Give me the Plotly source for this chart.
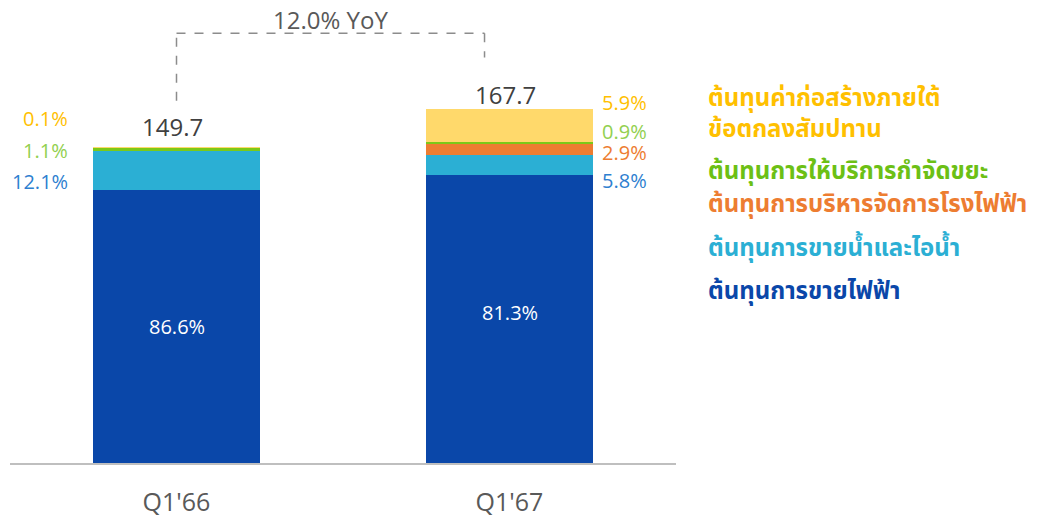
import plotly.graph_objects as go

categories = ["Q1'66", "Q1'67"]
totals = [149.7, 167.7]
totals_text = ["149.7", "167.7"]

# segment values (bottom -> top)
electricity = [129.6, 136.3]
water_steam = [18.1, 9.7]
plant_mgmt = [0.0, 5.0]
waste = [1.6, 1.3]
construction = [0.3, 15.4]

# labels printed on the chart
elec_pct = ["86.6%", "81.3%"]
left_labels = ["0.1%", "1.1%", "12.1%"]          # Q1'66: construction, waste, water
right_labels = ["5.9%", "0.9%", "2.9%", "5.8%"]   # Q1'67: construction, waste, plant, water
yoy_text = "12.0% YoY"

series_names = [
    "ต้นทุนการขายไฟฟ้า",
    "ต้นทุนการขายน้ำและไอน้ำ",
    "ต้นทุนการบริหารจัดการโรงไฟฟ้า",
    "ต้นทุนการให้บริการกำจัดขยะ",
    "ต้นทุนค่าก่อสร้างภายใต้<br>ข้อตกลงสัมปทาน",
]
series_values = [electricity, water_steam, plant_mgmt, waste, construction]
bar_colors = ["#0A47A9", "#2BAFD4", "#ED7D31", "#7CC918", "#FFD96B"]
text_colors = ["#0A47A9", "#2BAFD4", "#ED7D31", "#6CC015", "#FFC000"]

NUM_FONT = "Open Sans, Noto Sans, sans-serif"
THAI_FONT = "Noto Sans Thai, Loma, Garuda, Noto Sans, sans-serif"

# page body has an 8px margin; plot area spans x 10..676, y 10..463 in the window
PW, PH = 666, 453
SCALE = 2.11  # px per unit

fig = go.Figure()
for name, vals, col in zip(series_names, series_values, bar_colors):
    fig.add_trace(go.Bar(
        x=categories, y=vals, name=name, marker=dict(color=col, line=dict(width=0)),
        width=0.5, showlegend=False, hoverinfo="skip",
    ))

annotations = []
# inside labels
inside_shift = [0, 7]
for c, v, lab, ys in zip(categories, electricity, elec_pct, inside_shift):
    annotations.append(dict(x=c, y=v / 2, text=lab, showarrow=False, yshift=ys,
                            font=dict(size=20, color="white", family=NUM_FONT)))

# totals
total_shift = [2, -4]
for c, t, tt, ys in zip(categories, totals, totals_text, total_shift):
    annotations.append(dict(x=c, y=t, text=tt, showarrow=False, yanchor="bottom", yshift=ys, xshift=-4,
                            font=dict(size=24, color="#404040", family=NUM_FONT)))

# left labels Q1'66
left_y = [118, 150, 181]
left_cols = ["#FFC000", "#92D050", "#2E7FD0"]
for lab, py, col in zip(left_labels, left_y, left_cols):
    annotations.append(dict(xref="paper", yref="paper", x=(70 - 10) / PW, y=(463 - py) / PH,
                            text=lab, showarrow=False, xanchor="right", yanchor="middle",
                            font=dict(size=20, color=col, family=NUM_FONT)))
# right labels Q1'67
right_y = [102, 131, 152, 180]
right_cols = ["#FFC000", "#92D050", "#ED7D31", "#2E7FD0"]
for lab, py, col in zip(right_labels, right_y, right_cols):
    annotations.append(dict(xref="paper", yref="paper", x=(600 - 10) / PW, y=(463 - py) / PH,
                            text=lab, showarrow=False, xanchor="left", yanchor="middle",
                            font=dict(size=20, color=col, family=NUM_FONT)))

# legend text (right side)
legend_y = [115, 172, 205, 249, 292]
order = [4, 3, 2, 1, 0]
for idx, py in zip(order, legend_y):
    annotations.append(dict(xref="paper", yref="paper", x=(706 - 10) / PW, y=(463 - py) / PH,
                            text="<b>" + series_names[idx].replace("<br>", "</b><br><b>") + "</b>",
                            showarrow=False, xanchor="left", yanchor="middle", align="left",
                            font=dict(size=24, color=text_colors[idx], family=THAI_FONT)))

# YoY bracket
top_y = max(totals) + 36
fig.add_shape(type="line", x0=0, x1=0, y0=totals[0] + 22, y1=top_y,
              line=dict(color="#8C8C8C", width=1.5, dash="dash"))
fig.add_shape(type="line", x0=0, x1=0.925, y0=top_y, y1=top_y,
              line=dict(color="#8C8C8C", width=1.5, dash="dash"))
fig.add_shape(type="line", x0=0.925, x1=0.925, y0=top_y, y1=totals[1] + 24.5,
              line=dict(color="#8C8C8C", width=1.5, dash="dash"))
annotations.append(dict(x=0.463, y=top_y, text=yoy_text, showarrow=False, yanchor="middle", yshift=14,
                        font=dict(size=24, color="#595959", family=NUM_FONT)))

fig.update_layout(
    width=1031, height=513,
    margin=dict(l=2, r=363, t=2, b=58),
    barmode="stack", bargap=0.5,
    plot_bgcolor="white", paper_bgcolor="white",
    annotations=annotations,
    xaxis=dict(range=[-0.5, 1.5], showline=True, linecolor="#BFBFBF", linewidth=2,
               ticks="", ticklabelstandoff=16,
               tickfont=dict(size=25, color="#595959", family=NUM_FONT),
               showgrid=False, fixedrange=True),
    yaxis=dict(range=[0, PH / SCALE], visible=False, showgrid=False, zeroline=False),
)
fig.write_html("out.html")
